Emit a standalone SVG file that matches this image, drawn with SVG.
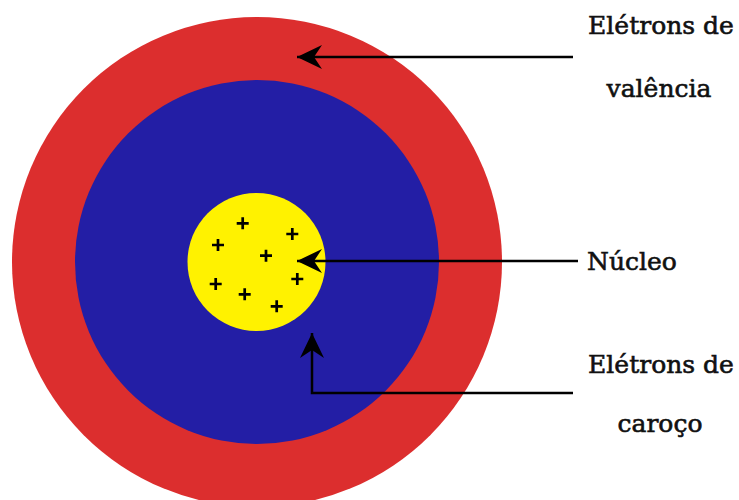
<svg xmlns="http://www.w3.org/2000/svg" width="739" height="500" viewBox="0 0 739 500">
<defs>
<style>
.lbl{font-family:"DejaVu Serif","Liberation Serif",serif;font-size:25px;fill:#111;stroke:#111;stroke-width:0.6;}
.conn{fill:none;stroke:#000;stroke-width:2.5;}
.plus{stroke:#000;stroke-width:2.7;fill:none;}
</style>
<marker id="ah" markerUnits="userSpaceOnUse" viewBox="-27 -14 29 28" markerWidth="29" markerHeight="28" refX="0" refY="0" orient="auto">
<path d="M0,0 L-25,-12 L-17,0 L-25,12 Z" fill="#000"/>
</marker>
<path id="p" d="M-6,0 H6 M0,-6 V6"/>
</defs>
<rect width="739" height="500" fill="#fff"/>
<g id="valence-shell"><circle cx="257" cy="262" r="245" fill="#dc2e2e"/></g>
<g id="core-shell"><circle cx="257" cy="262" r="182" fill="#231ea5"/></g>
<g id="nucleus">
<circle cx="256.5" cy="262" r="69" fill="#fff200"/>
<g class="plus">
<use href="#p" x="242.7" y="223.3"/>
<use href="#p" x="292.3" y="234"/>
<use href="#p" x="218" y="245"/>
<use href="#p" x="266" y="255.7"/>
<use href="#p" x="215.7" y="284"/>
<use href="#p" x="297.3" y="279"/>
<use href="#p" x="244.7" y="294.3"/>
<use href="#p" x="276.7" y="306.3"/>
</g>
</g>
<g id="connectors">
<path class="conn" d="M573,57 H297" marker-end="url(#ah)"/>
<path class="conn" d="M578,261 H297" marker-end="url(#ah)"/>
<path class="conn" d="M573,393 H312 V333" marker-end="url(#ah)"/>
</g>
<g id="label-valence">
<text class="lbl" x="661" y="34" text-anchor="middle">Elétrons de</text>
<text class="lbl" x="659" y="97" text-anchor="middle">valência</text>
</g>
<g id="label-nucleus"><text class="lbl" x="587" y="270">Núcleo</text></g>
<g id="label-core">
<text class="lbl" x="661" y="373" text-anchor="middle">Elétrons de</text>
<text class="lbl" x="660" y="432" text-anchor="middle">caroço</text>
</g>
</svg>
